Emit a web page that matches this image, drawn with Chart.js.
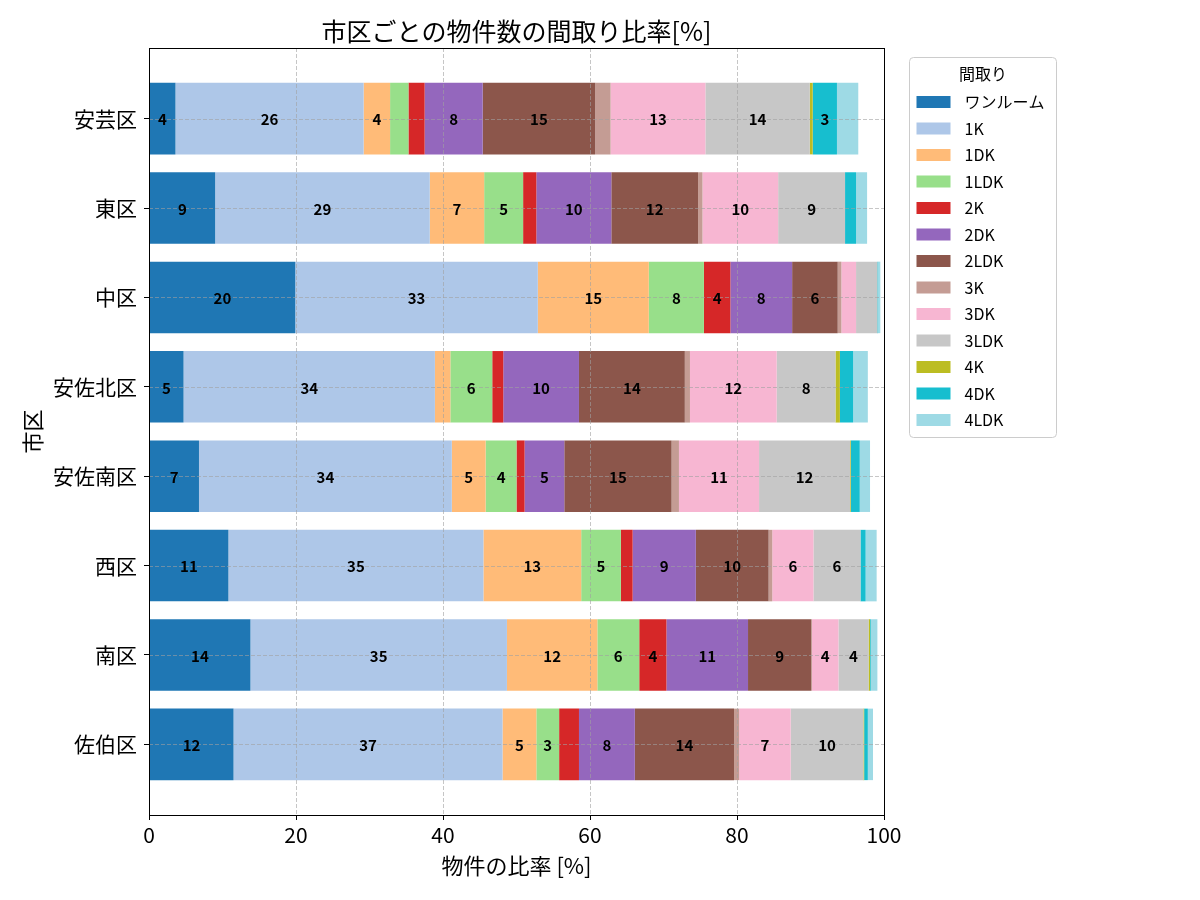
<!DOCTYPE html>
<html>
<head>
<meta charset="utf-8">
<script src="https://cdn.jsdelivr.net/npm/chart.js@4.4.1/dist/chart.umd.min.js"></script>
<style>
  html, body { margin: 0; padding: 0; background: #fff; }
  #wrap { width: 1200px; height: 900px; }
</style>
</head>
<body>
<div id="wrap"><canvas id="layoutChart" width="1200" height="900"></canvas></div>
<script>

var districts = ['安芸区', '東区', '中区', '安佐北区', '安佐南区', '西区', '南区', '佐伯区'];
var layouts = ['ワンルーム', '1K', '1DK', '1LDK', '2K', '2DK', '2LDK', '3K', '3DK', '3LDK', '4K', '4DK', '4LDK'];

// share [%] per district, one array per layout type
var oneRoom = [3.6, 9.0, 19.9, 4.7, 6.8, 10.8, 13.8, 11.5];
var k1      = [25.6, 29.2, 33.0, 34.2, 34.4, 34.7, 34.9, 36.6];
var dk1     = [3.6, 7.4, 15.1, 2.1, 4.6, 13.3, 12.3, 4.6];
var ldk1    = [2.5, 5.3, 7.5, 5.7, 4.2, 5.4, 5.7, 3.1];
var k2      = [2.2, 1.8, 3.6, 1.5, 1.1, 1.6, 3.7, 2.7];
var dk2     = [7.9, 10.2, 8.4, 10.3, 5.4, 8.6, 11.1, 7.6];
var ldk2    = [15.3, 11.8, 6.2, 14.4, 14.6, 9.9, 8.6, 13.5];
var k3      = [2.1, 0.6, 0.5, 0.7, 1.0, 0.5, 0.1, 0.7];
var dk3     = [12.9, 10.3, 2.0, 11.8, 10.9, 5.6, 3.6, 7.0];
var ldk3    = [14.2, 9.1, 2.9, 8.0, 12.4, 6.4, 4.1, 9.9];
var k4      = [0.4, 0, 0, 0.6, 0.1, 0, 0.2, 0.1];
var dk4     = [3.3, 1.5, 0.1, 1.8, 1.2, 0.7, 0.1, 0.5];
var ldk4    = [2.9, 1.5, 0.3, 2.0, 1.4, 1.5, 0.9, 0.7];

var xTicks = [0, 20, 40, 60, 80, 100];

var series = [oneRoom, k1, dk1, ldk1, k2, dk2, ldk2, k3, dk3, ldk3, k4, dk4, ldk4];
const colors = ['#1f77b4', '#aec7e8', '#ffbb78', '#98df8a', '#d62728', '#9467bd', '#8c564b',
                '#c49c94', '#f7b6d2', '#c7c7c7', '#bcbd22', '#17becf', '#9edae5'];

const FONT = "'Noto Sans CJK JP', 'Noto Sans', sans-serif";
Chart.defaults.font.family = FONT;
Chart.defaults.color = '#000';

const datasets = series.map((vals, j) => ({
    label: layouts[j],
    data: vals.map((v, i) => ({ x: v, y: i })),
    backgroundColor: colors[j],
    borderWidth: 0,
    barPercentage: 0.8,
    categoryPercentage: 1.0
}));

// grid on top of bars, value labels, frame, title, legend
const overlayPlugin = {
    id: 'overlay',
    afterDatasetsDraw(chart) {
        const ctx = chart.ctx;
        const a = chart.chartArea;
        const xs = chart.scales.x, ys = chart.scales.y;

        ctx.save();
        ctx.strokeStyle = 'rgba(160,160,160,0.6)';
        ctx.lineWidth = 1;
        ctx.setLineDash([4, 2]);
        xTicks.forEach(t => {
            const px = Math.round(xs.getPixelForValue(t)) + 0.5;
            ctx.beginPath(); ctx.moveTo(px, a.top); ctx.lineTo(px, a.bottom); ctx.stroke();
        });
        districts.forEach((_, i) => {
            const py = Math.round(ys.getPixelForValue(i)) + 0.5;
            ctx.beginPath(); ctx.moveTo(a.left, py); ctx.lineTo(a.right, py); ctx.stroke();
        });
        ctx.restore();

        ctx.save();
        ctx.font = 'bold 15px ' + FONT;
        ctx.fillStyle = '#000';
        ctx.textAlign = 'center';
        ctx.textBaseline = 'middle';
        chart.data.datasets.forEach((ds, d) => {
            const meta = chart.getDatasetMeta(d);
            meta.data.forEach((bar, i) => {
                const v = series[d][i];
                if (v < 3) return;
                const c = bar.getCenterPoint();
                ctx.fillText(String(Math.round(v)), c.x, c.y + 1);
            });
        });
        ctx.restore();

        ctx.save();
        ctx.strokeStyle = '#000';
        ctx.lineWidth = 1;
        ctx.strokeRect(Math.round(a.left) + 0.5, Math.round(a.top) + 0.5,
                       Math.round(a.right - a.left), Math.round(a.bottom - a.top));
        ctx.restore();
    },
    afterDraw(chart) {
        const ctx = chart.ctx;
        const a = chart.chartArea;

        ctx.save();
        ctx.fillStyle = '#000';
        ctx.font = '25px ' + FONT;
        ctx.textAlign = 'center';
        ctx.textBaseline = 'middle';
        ctx.fillText('市区ごとの物件数の間取り比率[%]', (a.left + a.right) / 2, 31);

        // legend
        const lx = a.right + 25.5, ly = 57.5, lw = 147, lh = 380;
        ctx.beginPath();
        ctx.roundRect(lx, ly, lw, lh, 4);
        ctx.fillStyle = 'rgba(255,255,255,0.85)';
        ctx.fill();
        ctx.strokeStyle = '#cccccc';
        ctx.stroke();

        ctx.fillStyle = '#000';
        ctx.font = '16px ' + FONT;
        ctx.fillText('間取り', lx + lw / 2, ly + 16);
        ctx.textAlign = 'left';
        chart.data.datasets.forEach((ds, k) => {
            const top = ly + 38.5 + k * 26.5;
            ctx.fillStyle = ds.backgroundColor;
            ctx.fillRect(lx + 7, top, 34, 12);
            ctx.fillStyle = '#000';
            ctx.fillText(ds.label, lx + 55, top + 6);
        });
        ctx.restore();
    }
};

var ctx = document.getElementById('layoutChart').getContext('2d');

var myChart = new Chart(ctx, {
    type: 'bar',
    data: { datasets: datasets },
    options: {
        responsive: false,
        animation: false,
        indexAxis: 'y',
        layout: {
            padding: { top: 48, right: 316, left: 0, bottom: 0 }
        },
        plugins: {
            legend: { display: false },
            title: { display: false },
            tooltip: { enabled: false }
        },
        scales: {
            x: {
                type: 'linear',
                stacked: true,
                min: 0,
                max: 100,
                afterBuildTicks: s => { s.ticks = xTicks.map(v => ({ value: v })); },
                ticks: { color: '#000', font: { size: 21 }, padding: 2, maxRotation: 0 },
                grid: { drawOnChartArea: false, drawTicks: true, tickLength: 5, tickColor: '#000' },
                border: { color: '#000' },
                title: {
                    display: true,
                    text: '物件の比率 [%]',
                    color: '#000',
                    font: { size: 22 },
                    padding: { top: 0, bottom: 21 }
                },
                afterFit: s => { s.height = 85; }
            },
            y: {
                type: 'linear',
                stacked: true,
                reverse: true,
                offset: false,
                min: -0.79,
                max: 7.79,
                afterBuildTicks: s => { s.ticks = districts.map((_, i) => ({ value: i })); },
                ticks: {
                    color: '#000',
                    font: { size: 21 },
                    padding: 7,
                    callback: v => districts[v]
                },
                grid: { offset: false, drawOnChartArea: false, drawTicks: true, tickLength: 5, tickColor: '#000' },
                border: { color: '#000' },
                title: {
                    display: true,
                    text: '市区',
                    color: '#000',
                    font: { size: 22 },
                    padding: { top: 19, bottom: 0 }
                },
                afterFit: s => { s.width = 149; }
            }
        }
    },
    plugins: [overlayPlugin]
});
</script>
</body>
</html>
